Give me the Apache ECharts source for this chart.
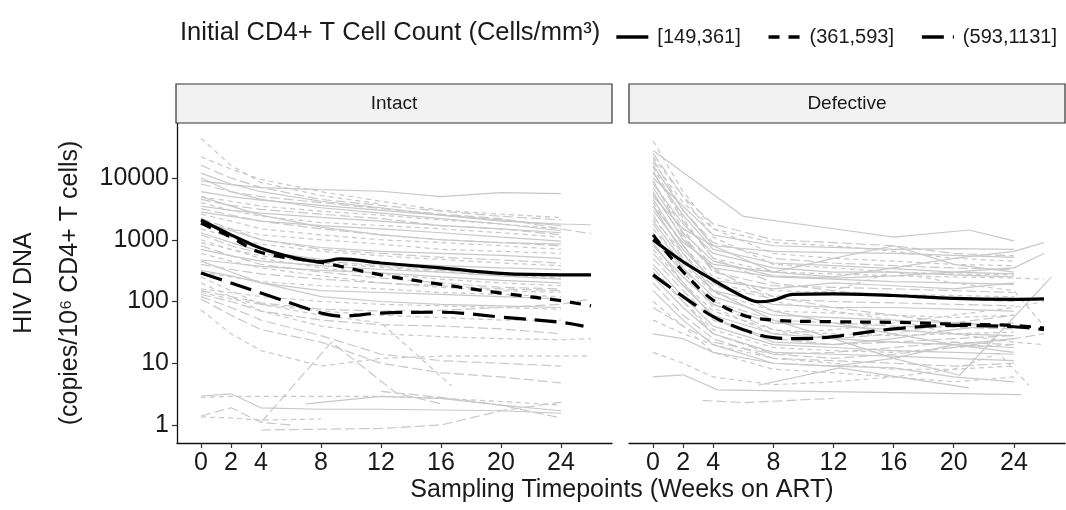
<!DOCTYPE html>
<html><head><meta charset="utf-8">
<script src="https://cdn.jsdelivr.net/npm/echarts@6/dist/echarts.min.js"></script>
<style>html,body{margin:0;padding:0;background:#fff}#c{width:1066px;height:510px}</style>
</head><body><div id="c"></div>
<script>
const panels = ['Intact', 'Defective'];
const groups = ['[149,361]', '(361,593]', '(593,1131]'];
const xTicks = [0, 2, 4, 8, 12, 16, 20, 24];
const yTicks = [1, 10, 100, 1000, 10000];
const legendTitle = 'Initial CD4+ T Cell Count (Cells/mm³)';
const xTitle = 'Sampling Timepoints (Weeks on ART)';
const yTitle = 'HIV DNA\n(copies/10⁶ CD4+ T cells)';

// smoothed group trends [week, copies]
const intactLow = [[0,2090],[2,1200],[4,730],[6.4,500],[8,440],[9.3,490],[12,420],[16,350],[20,285],[24,270],[26,270]];
const intactMid = [[0,1860],[2,1100],[4,620],[8,430],[12,270],[16,190],[20,137],[24,103],[26,85]];
const intactHigh = [[0,290],[2,200],[4,137],[7,78],[8,65],[9.3,58],[12,65],[16,67],[20,56],[24,46],[25.5,40]];
const defectiveLow = [[0,1000],[2,440],[4,223],[6,120],[7,99],[8,105],[9.3,130],[12,133],[16,125],[20,112],[24,108],[26,110]];
const defectiveMid = [[0,1200],[2,303],[4,105],[6,60],[8,50],[12,47],[16,46],[20,43],[24,41],[26,37]];
const defectiveHigh = [[0,270],[2,120],[4,57],[6,35],[8,26],[10,25],[12,27],[16,36],[20,41],[24,39],[26,35]];

// individual participants: [group code, [[week, copies], ...]]  s=[149,361] d=(361,593] l=(593,1131]
const intactLines = [
 ['d', [[0,44000],[2,16000],[4,8500],[8,5200],[12,3800]]],
 ['s', [[0,9000],[2,7800],[4,7000],[8,6500],[12,6100],[16,5000],[20,5800],[24,5600]]],
 ['d', [[0,22000],[2,14000],[4,9500],[8,6000],[12,4200],[16,3000],[20,2600],[24,2300]]],
 ['l', [[0,16000],[2,10000],[4,7000],[8,4500],[12,3600],[16,2900],[20,2400],[24,2100]]],
 ['s', [[0,12000],[2,8000],[4,6000],[8,4200],[12,3300],[16,2500],[20,2000],[24,1800],[26,1750]]],
 ['l', [[0,8000],[2,6000],[4,5000],[8,4000],[12,3200],[16,2600],[20,2200],[24,1500],[26,1250]]],
 ['s', [[0,6000],[2,5000],[4,4400],[8,3600],[12,3000],[16,2500],[20,2100],[24,1700]]],
 ['d', [[0,5000],[2,4200],[4,3500],[8,2900],[12,2500],[16,2100],[20,1800],[24,1500]]],
 ['s', [[0,10000],[2,6000],[4,4500],[8,3300],[12,2700],[16,2200],[20,1800],[24,1400]]],
 ['l', [[0,4500],[2,3600],[4,3100],[8,2600],[12,2200],[16,1700],[20,1500],[24,1200]]],
 ['s', [[0,3500],[2,3000],[4,2700],[8,2300],[12,2000],[16,1700],[20,1500],[24,1300]]],
 ['d', [[0,4000],[2,3000],[4,2400],[8,1900],[12,1700],[16,1500],[20,1300],[24,1100]]],
 ['s', [[0,2800],[2,2400],[4,2000],[8,1700],[12,1500],[16,1300],[20,1100],[24,950]]],
 ['l', [[0,3200],[2,2500],[4,2000],[8,1500],[12,1200],[16,1000],[20,900],[24,800]]],
 ['d', [[0,2600],[2,2000],[4,1500],[8,1200],[12,1000],[16,900],[20,800],[24,700]]],
 ['s', [[0,5000],[2,3500],[4,2500],[8,1600],[12,1200],[16,1000],[20,900],[24,850]]],
 ['d', [[0,1800],[2,1500],[4,1200],[8,1000],[12,850],[16,700],[20,650],[24,600]]],
 ['l', [[0,2200],[2,1500],[4,1000],[8,700],[12,600],[16,520],[20,470],[24,420]]],
 ['s', [[0,2000],[2,1400],[4,1000],[8,750],[12,650],[16,600],[20,560],[24,500]]],
 ['d', [[0,1500],[2,1100],[4,850],[8,650],[12,550],[16,480],[20,420],[24,380]]],
 ['s', [[0,1300],[2,900],[4,650],[8,480],[12,420],[16,380],[20,350],[24,330]]],
 ['l', [[0,1200],[2,800],[4,600],[8,450],[12,380],[16,320],[20,280],[24,260]]],
 ['d', [[0,900],[2,700],[4,550],[8,420],[12,360],[16,300],[20,270],[24,240]]],
 ['s', [[0,700],[2,550],[4,450],[8,380],[12,330],[16,300],[20,260],[24,230]]],
 ['s', [[0,470],[2,420],[4,370],[8,320],[12,290],[16,250],[20,220],[24,200]]],
 ['l', [[0,400],[2,330],[4,280],[8,230],[12,200],[16,180],[20,160],[24,150]]],
 ['d', [[0,300],[2,250],[4,210],[8,180],[12,160],[16,140],[20,130],[24,120]]],
 ['s', [[0,320],[2,260],[4,200],[8,150],[12,140],[16,130],[20,120],[24,110]]],
 ['d', [[0,600],[2,450],[4,350],[8,260],[12,200],[16,170],[20,150],[24,140]]],
 ['l', [[0,800],[2,550],[4,400],[8,300],[12,240],[16,200],[20,170],[24,160]]],
 ['d', [[0,1000],[2,700],[4,500],[8,350],[12,280],[16,230],[20,200],[24,180]]],
 ['s', [[0,450],[2,300],[4,200],[8,120],[12,100],[16,90],[20,85],[24,80]]],
 ['d', [[0,160],[2,140],[4,120],[8,100],[12,90],[16,85],[20,80],[24,75]]],
 ['d', [[0,140],[2,110],[4,90],[8,70],[12,60],[16,55],[20,50],[24,50]]],
 ['l', [[0,130],[2,100],[4,70],[8,50],[12,42],[16,40],[20,36],[24,30]]],
 ['l', [[0,150],[2,120],[4,95],[8,75],[12,70],[16,72],[20,80],[24,90],[26,110]]],
 ['d', [[0,73],[2,30],[4,16],[8,9],[12,12],[16,13],[20,13],[24,13],[26,13]]],
 ['l', [[0,120],[2,80],[4,50],[8,28],[12,14],[16,11],[20,10],[24,9]]],
 ['l', [[0,110],[2,60],[4,35],[8,22],[12,10],[16,7],[20,6],[24,4.8]]],
 ['l', [[4,1.1],[8.7,22],[13,3.3],[16,2.2]]],
 ['d', [[0,250],[2,150],[4,90],[8,60],[12,45],[16.7,4.3]]],
 ['d', [[0,200],[2,120],[4,70],[8,40],[12,30],[16,27],[20,25],[24,24],[26,25]]],
 ['s', [[0,2.95],[2,3.2],[4,1.9],[8,1.8],[12,1.8],[16,1.75],[20,1.7],[24,1.55]]],
 ['s', [[7,2.2],[12,2.9],[16,2.7],[20,2.1],[24,1.7]]],
 ['l', [[4,0.83],[12,0.88],[16,1.0],[20,1.7],[24,2.35]]],
 ['d', [[0,2.8],[2,2.9],[4,2.9],[8,2.9],[12,2.9],[16,2.7],[20,2.4],[24,2.1]]],
 ['d', [[0,1.35],[2,1.3],[4,1.2],[8,1.25]]],
 ['l', [[0,1.4],[2,1.9],[4,1.1],[6,1.0]]],
 ['l', [[12,3.5],[16,2.8],[20,2.1],[24,1.3]]]
];

const defectiveLines = [
 ['s', [[0,28000],[6,2400],[13,1400],[16,1100],[21,1440],[24,960]]],
 ['s', [[0,5000],[2,1500],[4,800],[8,650],[12,620],[16,600],[20,560],[24,520]]],
 ['d', [[0,40000],[2,6000],[4,1500],[8,600],[12,500],[16,450],[20,400],[24,380]]],
 ['l', [[0,20000],[2,3000],[4,900],[8,500],[12,420],[16,380],[20,350],[24,330]]],
 ['s', [[0,12000],[2,2500],[4,700],[8,420],[12,380],[16,340],[20,300],[24,280]]],
 ['d', [[0,15000],[2,2200],[4,500],[8,300],[12,280],[16,260],[20,250],[24,240],[26,230]]],
 ['s', [[0,8000],[2,1800],[4,600],[8,350],[12,300],[16,300],[20,270],[24,250]]],
 ['l', [[0,9000],[2,1200],[4,300],[8,180],[12,170],[16,160],[20,150],[24,140]]],
 ['s', [[0,6000],[2,1000],[4,350],[8,250],[12,230],[16,210],[20,200],[24,190]]],
 ['d', [[0,4000],[2,800],[4,250],[8,150],[12,140],[16,130],[20,125],[24,120]]],
 ['s', [[0,3000],[2,700],[4,220],[8,160],[12,200],[16,180],[20,160],[24,200]]],
 ['l', [[0,2500],[2,500],[4,180],[8,110],[12,100],[16,95],[20,90],[24,85]]],
 ['s', [[0,2000],[2,450],[4,150],[8,90],[12,80],[16,80],[20,75],[24,70]]],
 ['d', [[0,1500],[2,400],[4,140],[8,70],[12,65],[16,60],[20,55],[24,60]]],
 ['s', [[0,1200],[2,350],[4,120],[8,60],[12,55],[16,50],[20,45],[24,40]]],
 ['l', [[0,1000],[2,300],[4,100],[8,50],[12,45],[16,40],[20,38],[24,36]]],
 ['s', [[0,800],[2,250],[4,90],[8,45],[12,40],[16,35],[20,30],[24,28]]],
 ['d', [[0,700],[2,200],[4,70],[8,35],[12,30],[16,28],[20,30],[24,32]]],
 ['s', [[0,600],[2,180],[4,60],[8,30],[12,25],[16,22],[20,20],[24,18]]],
 ['l', [[0,500],[2,150],[4,50],[8,25],[12,20],[16,22],[20,25],[24,28]]],
 ['s', [[0,400],[2,120],[4,40],[8,20],[12,18],[16,16],[20,15],[24,14]]],
 ['d', [[0,300],[2,100],[4,35],[8,18],[12,16],[16,15],[20,18],[24,20]]],
 ['s', [[0,250],[2,80],[4,30],[8,15],[12,14],[16,13],[20,12],[24,11]]],
 ['l', [[0,200],[2,60],[4,25],[8,12],[12,11],[16,10],[20,9],[24,10]]],
 ['s', [[0,150],[2,50],[4,20],[8,10],[12,9],[16,8.4],[20,6],[24,5]]],
 ['d', [[0,100],[2,40],[4,15],[8,8],[12,7],[16,6],[20,5],[24,6]]],
 ['s', [[0,6],[2,6.5],[4.3,3.7],[24.5,3.1]]],
 ['s', [[7,4.4],[12.4,8.4],[21,4]]],
 ['l', [[3.3,2.5],[6,2.3],[12,2.7]]],
 ['s', [[0,3500],[2,600],[4,150],[8,50],[12,25],[16,12],[20.4,6.4],[26.5,250]]],
 ['s', [[0,10000],[2,3500],[4,1200],[8,800],[12,750],[16,700],[20,720],[24,700]]],
 ['d', [[0,18000],[2,4000],[4,1500],[8,900],[12,800],[16,650],[20,500],[24,450]]],
 ['l', [[0,25000],[2,5000],[4,1800],[8,1000],[12,900],[16,800],[20,600],[24,550]]],
 ['s', [[0,3500],[2,900],[4,400],[8,300],[12,500],[16,800],[20,400],[24,300]]],
 ['d', [[0,2200],[2,600],[4,200],[8,120],[12,150],[16,300],[20,200],[24,150],[26,40]]],
 ['l', [[0,13000],[2,2000],[4,500],[8,200],[12,150],[16,120],[20,110],[24,100]]],
 ['s', [[0,30],[2,25],[4,15],[8,10],[12,9],[16,12],[20,20],[24,25]]],
 ['d', [[0,50],[2,30],[4,20],[8,12],[12,10],[16,8],[20,8],[24,9]]],
 ['l', [[0,80],[2,40],[4,22],[8,14],[12,15],[16,18],[20,22],[24,20]]],
 ['d', [[0,15],[2,10],[4,6],[8,4.5],[12,5],[16,6],[20,8],[23,14.5],[25,4.4]]],
 ['s', [[0,7000],[2,1300],[4,450],[8,260],[12,240],[16,260],[20,300],[24,350],[26,600]]],
 ['l', [[0,5500],[2,1100],[4,320],[8,120],[12,80],[16,60],[20,45],[24,40]]],
 ['d', [[0,9000],[2,1500],[4,350],[8,100],[12,70],[16,50],[20,30],[24,22],[26,20]]],
 ['s', [[0,4500],[2,800],[4,200],[8,70],[12,45],[16,30],[20,20],[24,15]]],
 ['l', [[0,1800],[2,350],[4,90],[8,35],[12,25],[16,30],[20,45],[24,60]]],
 ['d', [[0,1300],[2,300],[4,80],[8,30],[12,35],[16,45],[20,60],[24,80],[26,100]]],
 ['s', [[0,900],[2,200],[4,55],[8,22],[12,20],[16,25],[20,35],[24,45]]],
 ['l', [[0,350],[2,100],[4,30],[8,14],[12,12],[16,14],[20,18],[24,25],[26,30]]],
 ['d', [[0,22000],[2,5000],[4,1100],[8,400],[12,350],[16,300],[20,280],[24,270]]],
 ['s', [[0,16000],[2,3000],[4,800],[8,300],[12,250],[16,350],[20,500],[24,650],[26,900]]]
];

const FONT = '"Liberation Sans", Arial, sans-serif';
const GREY = '#c8c8c8';
const greyDash = { s: 'solid', d: [5, 4], l: [10, 4] };
const blackDash = ['solid', [11, 9], [22, 9]];

const series = [];
[intactLines, defectiveLines].forEach((lines, p) => {
  lines.forEach((ln, i) => {
    series.push({
      type: 'line', name: 'p' + p + '_' + i, xAxisIndex: p, yAxisIndex: p,
      data: ln[1], symbol: 'none', silent: true, z: 1,
      lineStyle: { color: GREY, width: 1.2, type: greyDash[ln[0]] }
    });
  });
});
[[intactLow, intactMid, intactHigh], [defectiveLow, defectiveMid, defectiveHigh]].forEach((trs, p) => {
  trs.forEach((tr, g) => {
    series.push({
      type: 'line', name: groups[g], xAxisIndex: p, yAxisIndex: p,
      data: tr, symbol: 'none', smooth: 0.35, silent: true, z: 5,
      itemStyle: { color: '#000' },
      lineStyle: { color: '#000', width: 3.2, type: blackDash[g] }
    });
  });
});

const G = [{ left: 176, top: 123, width: 436, height: 320 }, { left: 629, top: 123, width: 436, height: 320 }];

const xAxis = G.map((g, i) => ({
  type: 'value', gridIndex: i, min: -1.6, max: 27.4,
  axisLine: { show: true, onZero: false, lineStyle: { color: '#111', width: 1.3 } },
  axisTick: { show: true, customValues: xTicks, length: 5, lineStyle: { color: '#333', width: 1.2 } },
  axisLabel: { customValues: xTicks, fontSize: 25, color: '#1a1a1a', fontFamily: FONT, margin: 8 },
  splitLine: { show: false }
}));
const yAxis = G.map((g, i) => ({
  type: 'log', logBase: 10, gridIndex: i, min: 0.511, max: 77800,
  axisLine: { show: i === 0, onZero: false, lineStyle: { color: '#111', width: 1.3 } },
  axisTick: { show: i === 0, customValues: yTicks, length: 5, lineStyle: { color: '#333', width: 1.2 } },
  axisLabel: { show: i === 0, customValues: yTicks, fontSize: 25, color: '#1a1a1a', fontFamily: FONT, margin: 8,
    formatter: v => String(Math.round(v)) },
  splitLine: { show: false },
  name: i === 0 ? yTitle : '', nameLocation: 'middle', nameRotate: 90, nameGap: 84,
  nameTextStyle: { fontSize: 25, color: '#1a1a1a', fontFamily: FONT, lineHeight: 46 }
}));

const graphic = [];
G.forEach((g, i) => {
  graphic.push({ type: 'rect', shape: { x: g.left, y: 84, width: g.width, height: 39 },
    style: { fill: '#f2f2f2', stroke: '#333', lineWidth: 1.2 }, z: 10 });
  graphic.push({ type: 'text', x: g.left + g.width / 2, y: 103.5, z: 11,
    style: { text: panels[i], font: '19px ' + FONT, fill: '#1a1a1a', textAlign: 'center', textVerticalAlign: 'middle' } });
});
graphic.push({ type: 'text', x: 180, y: 33, z: 11,
  style: { text: legendTitle, font: '25.5px ' + FONT, fill: '#1a1a1a', textAlign: 'left', textVerticalAlign: 'middle' } });
graphic.push({ type: 'text', x: 622, y: 490, z: 11,
  style: { text: xTitle, font: '25px ' + FONT, fill: '#1a1a1a', textAlign: 'center', textVerticalAlign: 'middle' } });

const chart = echarts.init(document.getElementById('c'), null, { renderer: 'canvas' });
chart.setOption({
  animation: false,
  backgroundColor: '#fff',
  grid: G,
  xAxis, yAxis, series, graphic,
  legend: {
    data: groups, right: 4, top: 22, itemWidth: 32, itemHeight: 14, itemGap: 26,
    selectedMode: false,
    itemStyle: { color: 'rgba(0,0,0,0)', borderWidth: 0, opacity: 0 },
    lineStyle: { width: 3.6 },
    textStyle: { fontSize: 20, color: '#1a1a1a', fontFamily: FONT, padding: [0, 0, 0, 4] }
  }
});
</script></body></html>
